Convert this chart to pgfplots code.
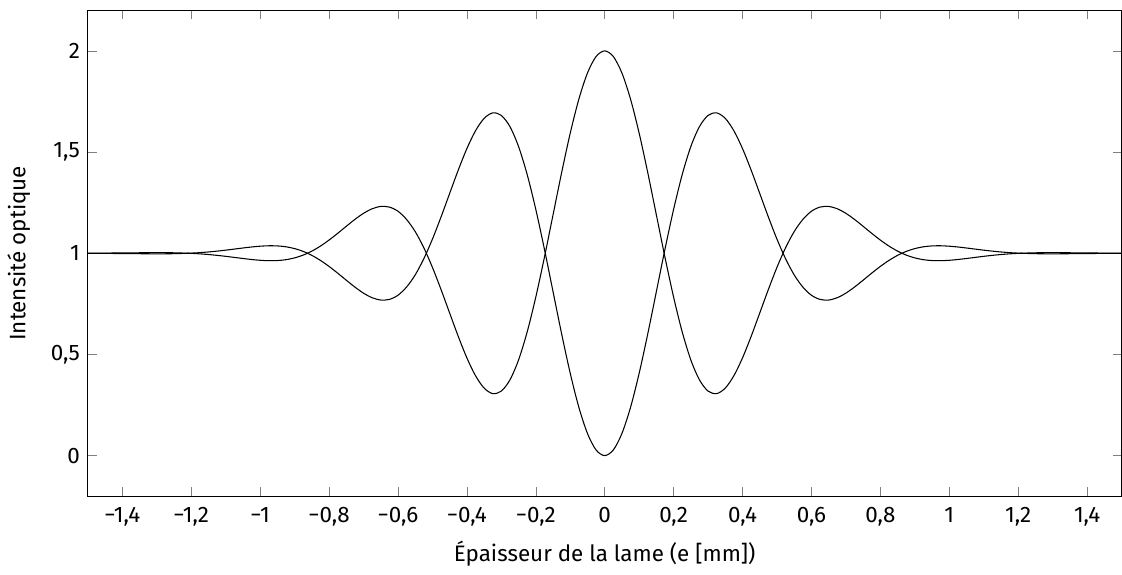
\documentclass[border=0pt]{standalone}
\usepackage{fontspec}
\setmainfont[Scale=1.055]{Fira Sans}
\usepackage{pgfplots}
\usepackage{pgfplotstable}
\pgfplotsset{compat=1.18}

% e, I1, I2 (two complementary interference outputs)
\pgfplotstableread{
e      a      b
-1.500 1.0003 0.9997
-1.450 1.0008 0.9992
-1.400 1.0015 0.9985
-1.350 1.0023 0.9977
-1.300 1.0028 0.9972
-1.250 1.0022 0.9978
-1.200 0.9994 1.0006
-1.175 0.9970 1.0030
-1.150 0.9937 1.0063
-1.125 0.9896 1.0104
-1.100 0.9848 1.0152
-1.075 0.9795 1.0205
-1.050 0.9741 1.0259
-1.025 0.9691 1.0309
-1.000 0.9652 1.0348
-0.975 0.9631 1.0369
-0.950 0.9638 1.0362
-0.925 0.9681 1.0319
-0.900 0.9770 1.0230
-0.875 0.9909 1.0091
-0.850 1.0104 0.9896
-0.825 1.0353 0.9647
-0.800 1.0650 0.9350
-0.775 1.0982 0.9018
-0.750 1.1331 0.8669
-0.725 1.1671 0.8329
-0.700 1.1971 0.8029
-0.675 1.2197 0.7803
-0.650 1.2312 0.7688
-0.625 1.2282 0.7718
-0.600 1.2077 0.7923
-0.575 1.1671 0.8329
-0.550 1.1073 0.8927
-0.525 1.0275 0.9725
-0.500 0.9306 1.0694
-0.475 0.8210 1.1790
-0.450 0.7048 1.2952
-0.425 0.5893 1.4107
-0.400 0.4831 1.5169
-0.375 0.3951 1.6049
-0.350 0.3337 1.6663
-0.325 0.3064 1.6936
-0.300 0.3188 1.6812
-0.275 0.3741 1.6259
-0.250 0.4725 1.5275
-0.225 0.6108 1.3892
-0.200 0.7829 1.2171
-0.175 0.9794 1.0206
-0.150 1.1890 0.8110
-0.125 1.3981 0.6019
-0.100 1.5933 0.4067
-0.075 1.7614 0.2386
-0.050 1.8907 0.1093
-0.025 1.9722 0.0278
 0.000 2.0000 0.0000
 0.025 1.9722 0.0278
 0.050 1.8907 0.1093
 0.075 1.7614 0.2386
 0.100 1.5933 0.4067
 0.125 1.3981 0.6019
 0.150 1.1890 0.8110
 0.175 0.9794 1.0206
 0.200 0.7829 1.2171
 0.225 0.6108 1.3892
 0.250 0.4725 1.5275
 0.275 0.3741 1.6259
 0.300 0.3188 1.6812
 0.325 0.3064 1.6936
 0.350 0.3337 1.6663
 0.375 0.3951 1.6049
 0.400 0.4831 1.5169
 0.425 0.5893 1.4107
 0.450 0.7048 1.2952
 0.475 0.8210 1.1790
 0.500 0.9306 1.0694
 0.525 1.0275 0.9725
 0.550 1.1073 0.8927
 0.575 1.1671 0.8329
 0.600 1.2077 0.7923
 0.625 1.2282 0.7718
 0.650 1.2312 0.7688
 0.675 1.2197 0.7803
 0.700 1.1971 0.8029
 0.725 1.1671 0.8329
 0.750 1.1331 0.8669
 0.775 1.0982 0.9018
 0.800 1.0650 0.9350
 0.825 1.0353 0.9647
 0.850 1.0104 0.9896
 0.875 0.9909 1.0091
 0.900 0.9770 1.0230
 0.925 0.9681 1.0319
 0.950 0.9638 1.0362
 0.975 0.9631 1.0369
 1.000 0.9652 1.0348
 1.025 0.9691 1.0309
 1.050 0.9741 1.0259
 1.075 0.9795 1.0205
 1.100 0.9848 1.0152
 1.125 0.9896 1.0104
 1.150 0.9937 1.0063
 1.175 0.9970 1.0030
 1.200 0.9994 1.0006
 1.250 1.0022 0.9978
 1.300 1.0028 0.9972
 1.350 1.0023 0.9977
 1.400 1.0015 0.9985
 1.450 1.0008 0.9992
 1.500 1.0003 0.9997
}\lame

\begin{document}
\begin{tikzpicture}
\begin{axis}[name=ax, scale only axis, width=486.8pt, height=228.7pt,
  xmin=-1.5, xmax=1.5, ymin=-0.2, ymax=2.2,
  xtick={-1.4,-1.2,-1,-0.8,-0.6,-0.4,-0.2,0,0.2,0.4,0.6,0.8,1,1.2,1.4},
  xticklabels={{−1,4},{−1,2},{−1},{−0,8},{−0,6},{−0,4},{−0,2},0,{0,2},{0,4},{0,6},{0,8},1,{1,2},{1,4}},
  ytick={0,0.5,1,1.5,2},
  yticklabels={0,{0,5},1,{1,5},2},
  xticklabel shift=1.5pt,
  ylabel shift=2.5pt,
  xlabel={Épaisseur de la lame (e [mm])},
  ylabel={Intensité optique},
  every axis plot/.append style={line width=0.5pt}]
\addplot[black, smooth] table[x=e, y=a] {\lame};
\addplot[black, smooth] table[x=e, y=b] {\lame};
\end{axis}
\path (ax.north east) ++(0,4.9pt);
\end{tikzpicture}
\end{document}
